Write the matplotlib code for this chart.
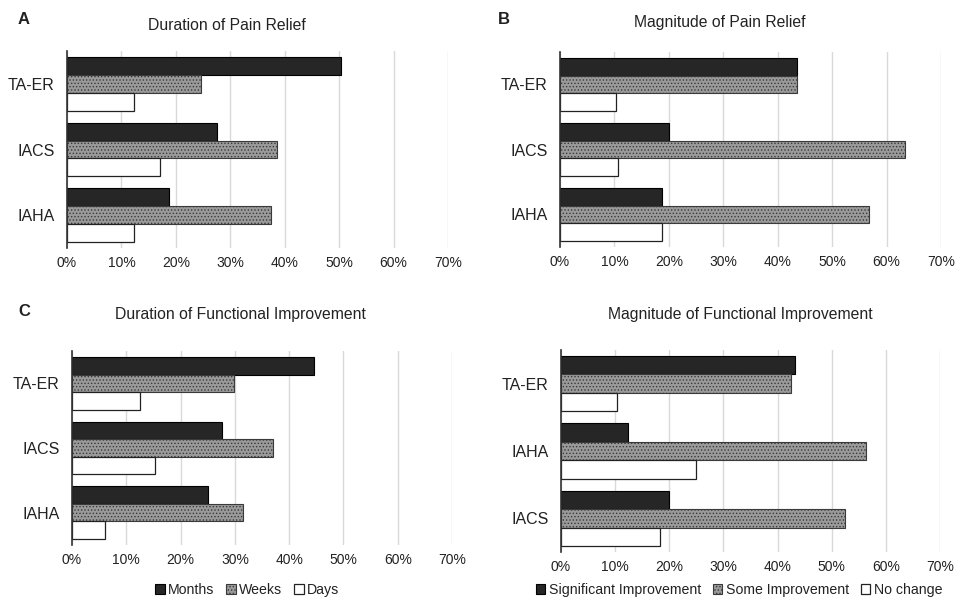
import matplotlib
matplotlib.use('Agg')
import matplotlib.pyplot as plt
from matplotlib.patches import Patch
from matplotlib.ticker import PercentFormatter
import numpy as np

plt.rcParams['font.family'] = ['Liberation Sans', 'DejaVu Sans']
plt.rcParams['hatch.linewidth'] = 0.6

# percentages of patients per treatment
cats_abc = ['TA-ER', 'IACS', 'IAHA']
cats_d = ['TA-ER', 'IAHA', 'IACS']

dur_labels = ['Months', 'Weeks', 'Days']
mag_labels = ['Significant Improvement', 'Some Improvement', 'No change']

pain_dur_months = [50.4, 27.6, 18.7]
pain_dur_weeks = [24.7, 38.5, 37.4]
pain_dur_days = [12.4, 17.0, 12.4]

pain_mag_sig = [43.6, 20.1, 18.8]
pain_mag_some = [43.5, 63.4, 56.7]
pain_mag_none = [10.3, 10.6, 18.8]

func_dur_months = [44.5, 27.7, 25.1]
func_dur_weeks = [29.9, 37.1, 31.5]
func_dur_days = [12.5, 15.2, 6.1]

func_mag_sig = [43.2, 12.3, 19.9]
func_mag_some = [42.4, 56.4, 52.4]
func_mag_none = [10.3, 25.0, 18.3]

W, H = 955, 598
fig = plt.figure(figsize=(W / 100, H / 100), dpi=100)

styles = [
    dict(facecolor='#262626', edgecolor='black', linewidth=0.8),
    dict(facecolor='#9a9a9a', edgecolor='#3a3a3a', hatch='.....', linewidth=0.8),
    dict(facecolor='white', edgecolor='#222222', linewidth=0.9),
]


def px_axes(x0, y0, x1, y1):
    return fig.add_axes([x0 / W, 1 - y1 / H, (x1 - x0) / W, (y1 - y0) / H])


def panel(ax, cats, series):
    bh = 0.273
    y = np.arange(len(cats))
    for i, vals in enumerate(series):
        ax.barh(y + (i - 1) * bh, vals, height=bh, zorder=3, **styles[i])
    ax.set_xlim(0, 70)
    ax.set_ylim(len(cats) - 0.5, -0.5)
    ax.set_yticks(y)
    ax.set_yticklabels(cats, fontsize=11.5, color='#222222')
    ax.set_xticks(np.arange(0, 71, 10))
    ax.xaxis.set_major_formatter(PercentFormatter(decimals=0))
    ax.tick_params(axis='x', labelsize=10, colors='#222222', length=0, pad=6)
    ax.tick_params(axis='y', length=0, pad=9)
    ax.grid(axis='x', color='#d9d9d9', linewidth=1, zorder=0)
    for s in ['top', 'right', 'bottom']:
        ax.spines[s].set_visible(False)
    ax.spines['left'].set_color('#333333')
    ax.spines['left'].set_linewidth(1.2)
    ax.spines['left'].set_zorder(4)


axA = px_axes(67, 51, 448, 248)
panel(axA, cats_abc, [pain_dur_months, pain_dur_weeks, pain_dur_days])
axB = px_axes(560, 52, 941, 247)
panel(axB, cats_abc, [pain_mag_sig, pain_mag_some, pain_mag_none])
axC = px_axes(72, 351, 452, 545)
panel(axC, cats_abc, [func_dur_months, func_dur_weeks, func_dur_days])
axD = px_axes(561, 350, 940, 552)
panel(axD, cats_d, [func_mag_sig, func_mag_some, func_mag_none])

titles = [
    ('Duration of Pain Relief', 227, 25),
    ('Magnitude of Pain Relief', 720, 23),
    ('Duration of Functional Improvement', 240, 315),
    ('Magnitude of Functional Improvement', 740, 315),
]
for t, x, y in titles:
    fig.text(x / W, 1 - y / H, t, fontsize=11.3, color='#222222', ha='center', va='center')

for lab, x, y in [('A', 24, 20), ('B', 504, 19), ('C', 24, 311)]:
    fig.text(x / W, 1 - y / H, lab, fontsize=12, fontweight='bold', color='#222222',
             ha='center', va='center')

for labels, cx in [(dur_labels, 247), (mag_labels, 739)]:
    handles = [Patch(label=l, **styles[i]) for i, l in enumerate(labels)]
    fig.legend(handles=handles, loc='center', bbox_to_anchor=(cx / W, 1 - 590 / H),
               ncol=3, frameon=False, fontsize=10.2, handlelength=0.7, handleheight=0.7,
               handletextpad=0.25, columnspacing=0.8, borderaxespad=0, borderpad=0,
               labelcolor='#222222')

fig.savefig('out.png', dpi=100, facecolor='white')
